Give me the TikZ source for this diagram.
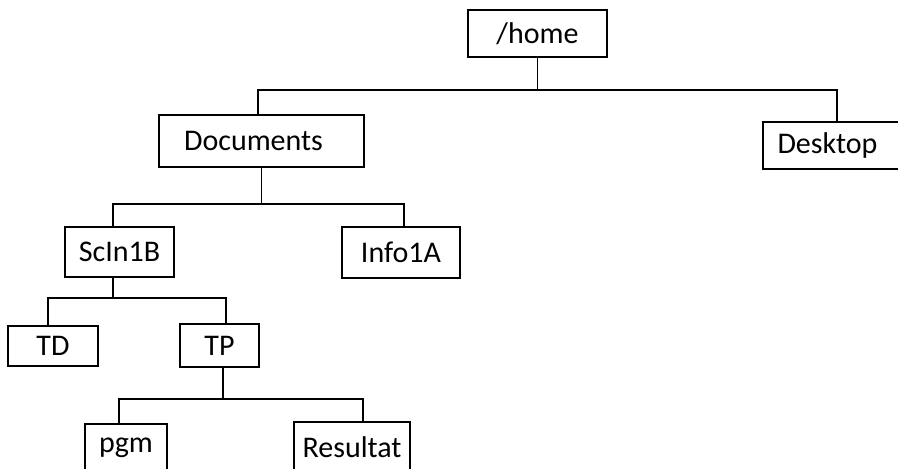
\documentclass[tikz,border=0pt]{standalone}
\usepackage{fontspec}
\setmainfont{Carlito}
\begin{document}
\begin{tikzpicture}[x=1pt,y=-1pt,
  box/.style={draw=black, line width=1.4pt, inner sep=0pt, font=\fontsize{30}{36}\selectfont},
  conn/.style={draw=black, line width=1.4pt}]
\useasboundingbox (0,0) rectangle (898,469);
\clip (0,0) rectangle (898,469);
\node[box, minimum width=139pt, minimum height=47pt] (home) at (537.5,33.5) {/home};
\node[box, minimum width=205pt, minimum height=52pt] (docs) at (261.5,141) {\hspace*{-16pt}Documents};
\node[box, minimum width=139pt, minimum height=47pt] (desk) at (832.5,145.5) {\hspace*{-10pt}Desktop};
\node[box, minimum width=109pt, minimum height=50pt] (scin) at (119.5,252) {ScIn1B};
\node[box, minimum width=118pt, minimum height=51pt] (info) at (401,252.5) {Info1A};
\node[box, minimum width=90pt, minimum height=40pt] (td) at (53,346) {TD};
\node[box, minimum width=79pt, minimum height=43pt] (tp) at (219.5,345.5) {TP};
\node[box, minimum width=82pt, minimum height=47pt] (pgm) at (126,447.5) {pgm};
\node[box, minimum width=116pt, minimum height=50pt] (res) at (352,447) {Resultat};
\coordinate (bus1) at (540,90);
\coordinate (bus2) at (260,204);
\coordinate (bus3) at (113,298);
\coordinate (bus4) at (223,399);
\draw[conn] (home.south) -- (home.south |- bus1);
\draw[conn] ([xshift=-3.5pt]docs.north) |- (bus1) -| ([xshift=4.5pt]desk.north);
\draw[conn] (docs.south) -- (docs.south |- bus2);
\draw[conn] ([xshift=-6.5pt]scin.north) |- (bus2) -| ([xshift=3pt]info.north);
\draw[conn] ([xshift=-6.5pt]scin.south) -- ([xshift=-6.5pt]scin.south |- bus3);
\draw[conn] ([xshift=-5pt]td.north) |- (bus3) -| ([xshift=6.5pt]tp.north);
\draw[conn] ([xshift=3.5pt]tp.south) -- ([xshift=3.5pt]tp.south |- bus4);
\draw[conn] ([xshift=-7pt]pgm.north) |- (bus4) -| ([xshift=11pt]res.north);
\end{tikzpicture}
\end{document}
